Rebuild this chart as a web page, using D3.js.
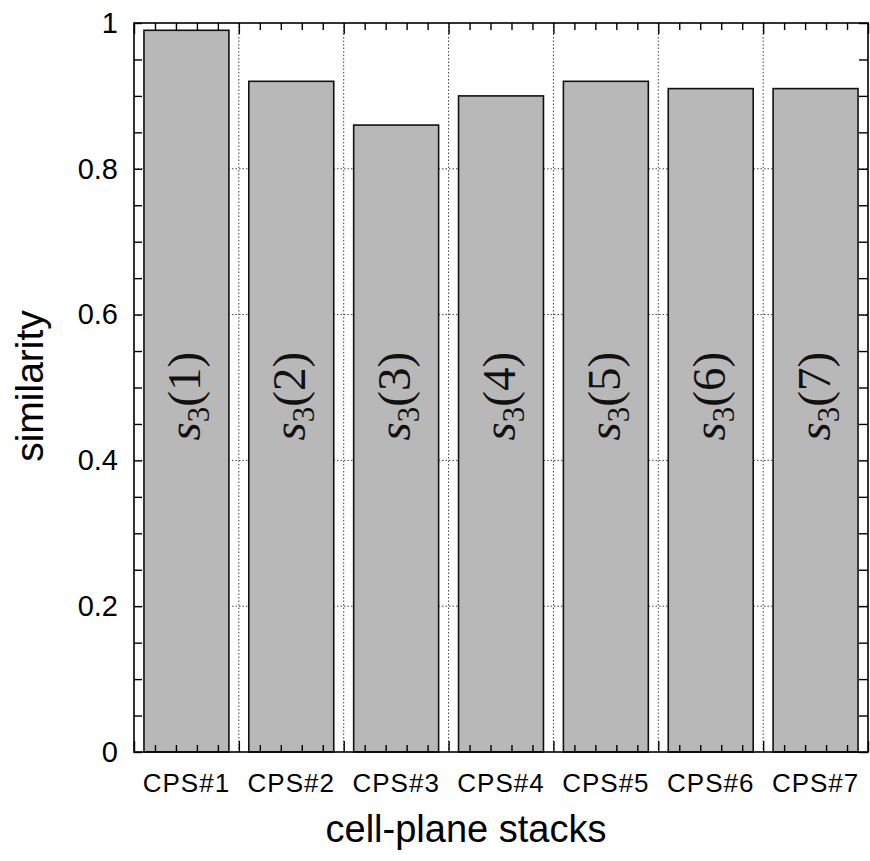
<!DOCTYPE html>
<html>
<head>
<meta charset="utf-8">
<script src="https://cdn.jsdelivr.net/npm/d3@7"></script>
<style>
  body { margin: 0; background: #fff; }
  svg { display: block; }
</style>
</head>
<body>
<script>
'use strict';

// chart data
const categories = ["CPS#1", "CPS#2", "CPS#3", "CPS#4", "CPS#5", "CPS#6", "CPS#7"];
const similarity = [0.99, 0.92, 0.86, 0.90, 0.92, 0.91, 0.91];
const barIndex = ["1", "2", "3", "4", "5", "6", "7"];
const yMajorTicks = [0, 0.2, 0.4, 0.6, 0.8, 1];

(function () {
  const width = 870, height = 861;
  const plotLeft = 134, plotRight = 868, plotTop = 23, plotBottom = 752;

  const svg = d3.select('body').append('svg')
    .attr('width', width)
    .attr('height', height);

  // scales
  const x = d3.scaleBand()
    .domain(categories)
    .range([plotLeft, plotRight])
    .paddingInner(0.19)
    .paddingOuter(0.095);

  // linear scale in "band units" for minor ticks and category boundaries
  const xUnits = d3.scaleLinear()
    .domain([0, categories.length])
    .range([plotLeft, plotRight]);

  const y = d3.scaleLinear()
    .domain([0, 1])
    .range([plotBottom, plotTop]);

  // dotted grid (behind the bars)
  const grid = svg.append('g')
    .attr('stroke', '#444')
    .attr('stroke-width', 1)
    .attr('stroke-dasharray', '1.5,2');

  grid.selectAll('.hgrid')
    .data(yMajorTicks.filter(d => d > 0 && d < 1))
    .enter().append('line')
    .attr('x1', plotLeft).attr('x2', plotRight)
    .attr('y1', d => y(d)).attr('y2', d => y(d));

  grid.selectAll('.vgrid')
    .data(d3.range(1, categories.length))
    .enter().append('line')
    .attr('x1', d => xUnits(d)).attr('x2', d => xUnits(d))
    .attr('y1', plotTop).attr('y2', plotBottom);

  // bars
  svg.selectAll('.bar')
    .data(similarity)
    .enter().append('rect')
    .attr('x', (d, i) => x(categories[i]))
    .attr('y', d => y(d))
    .attr('width', x.bandwidth())
    .attr('height', d => y(0) - y(d))
    .attr('fill', '#b8b8b8')
    .attr('stroke', '#111')
    .attr('stroke-width', 1.6);

  // rotated labels s_3(i) inside the bars
  const labels = svg.selectAll('.barlabel')
    .data(barIndex)
    .enter().append('text')
    .attr('transform', (d, i) => {
      let cx = x(categories[i]) + x.bandwidth() / 2 + 14;
      return 'translate(' + cx + ',' + y(0.488) + ')rotate(-90)';
    })
    .attr('text-anchor', 'middle')
    .style('font-family', '"Liberation Serif", "DejaVu Serif", serif')
    .style('font-size', '47px')
    .attr('fill', '#111');

  labels.append('tspan').style('font-style', 'italic').text('s');
  labels.append('tspan').attr('dy', 9).style('font-size', '31px').text('3');
  labels.append('tspan').attr('dy', -9).text(d => '(' + d + ')');

  // frame
  svg.append('rect')
    .attr('x', plotLeft).attr('y', plotTop)
    .attr('width', plotRight - plotLeft).attr('height', plotBottom - plotTop)
    .attr('fill', 'none')
    .attr('stroke', '#000')
    .attr('stroke-width', 1.6);

  // y axis: inward ticks every 0.05, labels at majors
  const yAll = d3.range(0, 1.0001, 0.05).map(d => +d.toFixed(2));
  const isMajor = d => yMajorTicks.some(m => Math.abs(m - d) < 1e-6);

  const yAxis = d3.axisLeft(y)
    .tickValues(yAll)
    .tickSize(-8)
    .tickPadding(16)
    .tickFormat(d => isMajor(d) ? d3.format('')(d) : '');

  svg.append('g')
    .attr('transform', 'translate(' + plotLeft + ',0)')
    .call(yAxis)
    .call(g => g.select('.domain').remove())
    .call(g => g.selectAll('line').attr('stroke-width', 1.4))
    .call(g => g.selectAll('text')
      .style('font-family', '"Liberation Sans", Arial, sans-serif')
      .style('font-size', '29px')
      .attr('fill', '#000'));

  // mirrored ticks on the right
  svg.append('g')
    .attr('transform', 'translate(' + plotRight + ',0)')
    .call(d3.axisRight(y).tickValues(yAll).tickSize(-9).tickFormat(''))
    .call(g => g.select('.domain').remove())
    .call(g => g.selectAll('line').attr('stroke-width', 1.4));

  // minor ticks on top and bottom every 0.2 band
  const xMinor = d3.range(0, categories.length + 0.001, 0.2).map(d => +d.toFixed(1));
  const xTickLen = d => Number.isInteger(d) ? 11 : 7;

  svg.append('g')
    .attr('transform', 'translate(0,' + plotTop + ')')
    .call(d3.axisTop(xUnits).tickValues(xMinor).tickSize(-7).tickFormat(''))
    .call(g => g.select('.domain').remove())
    .call(g => g.selectAll('line').attr('stroke-width', 1.4)
      .attr('y2', d => xTickLen(d)));

  svg.append('g')
    .attr('transform', 'translate(0,' + plotBottom + ')')
    .call(d3.axisBottom(xUnits).tickValues(xMinor).tickSize(-7).tickFormat(''))
    .call(g => g.select('.domain').remove())
    .call(g => g.selectAll('line').attr('stroke-width', 1.4)
      .attr('y2', d => -xTickLen(d)));

  // category labels
  svg.append('g')
    .attr('transform', 'translate(0,' + plotBottom + ')')
    .call(d3.axisBottom(x).tickSize(0).tickPadding(22))
    .call(g => g.select('.domain').remove())
    .call(g => g.selectAll('text')
      .style('font-family', '"Liberation Sans", Arial, sans-serif')
      .style('font-size', '26px')
      .style('letter-spacing', '1px')
      .attr('fill', '#000'));

  // axis titles
  svg.append('text')
    .attr('x', 466)
    .attr('y', 842)
    .attr('text-anchor', 'middle')
    .style('font-family', '"Liberation Sans", Arial, sans-serif')
    .style('font-size', '38px')
    .text('cell-plane stacks');

  svg.append('text')
    .attr('transform', 'translate(43,386)rotate(-90)')
    .attr('text-anchor', 'middle')
    .style('font-family', '"Liberation Sans", Arial, sans-serif')
    .style('font-size', '39px')
    .text('similarity');
})();
</script>
</body>
</html>
